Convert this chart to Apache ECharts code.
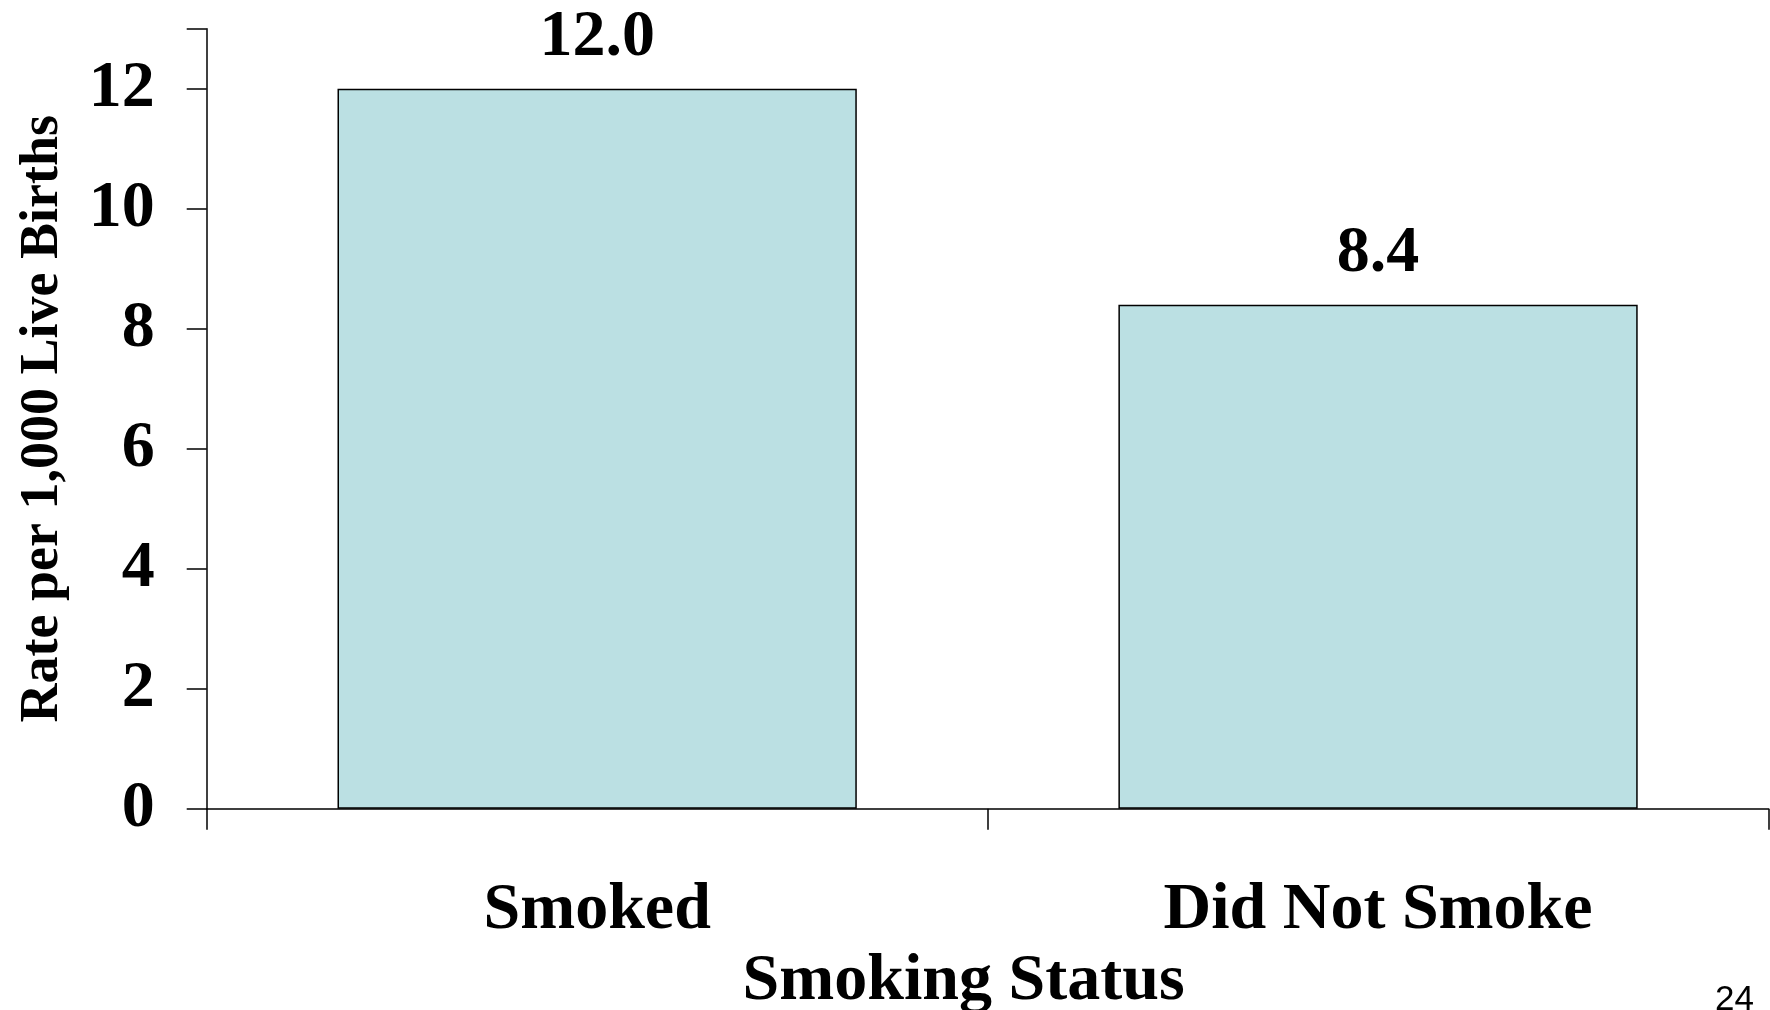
<!DOCTYPE html>
<html>
<head>
<meta charset="utf-8">
<script src="https://cdn.jsdelivr.net/npm/echarts@6/dist/echarts.min.js"></script>
<style>html,body{margin:0;padding:0;background:#fff}#chart{width:1770px;height:1010px}</style>
</head>
<body>
<div id="chart"></div>
<script>
const categories = ['Smoked', 'Did Not Smoke'];
const rates = [12.0, 8.4];
const yTicks = [0, 2, 4, 6, 8, 10, 12];
const yAxisTitle = 'Rate per 1,000 Live Births';
const xAxisTitle = 'Smoking Status';
const pageNumber = '24';

const serif = '"Liberation Serif", "Times New Roman", serif';
const chart = echarts.init(document.getElementById('chart'), null, {renderer: 'canvas'});
chart.setOption({
  animation: false,
  backgroundColor: '#ffffff',
  title: {
    text: pageNumber,
    left: 1710,
    top: 978,
    textStyle: {fontFamily: '"Liberation Sans", Arial, sans-serif', fontSize: 35, fontWeight: 'normal', color: '#000'}
  },
  grid: {left: 206.7, right: 1.5, top: 28.7, bottom: 201.3, containLabel: false, outerBoundsMode: 'none'},
  xAxis: {
    type: 'category',
    data: categories,
    name: xAxisTitle,
    nameLocation: 'middle',
    nameGap: 131,
    nameTextStyle: {fontFamily: serif, fontWeight: 'bold', fontSize: 66, color: '#000', padding: [0, 48, 0, 0]},
    axisLine: {show: true, lineStyle: {color: '#000', width: 1.5}},
    axisTick: {show: true, length: 21, inside: false, lineStyle: {color: '#000', width: 1.5}},
    axisLabel: {fontFamily: serif, fontWeight: 'bold', fontSize: 66, color: '#000', margin: 69},
    splitLine: {show: false}
  },
  yAxis: {
    type: 'value',
    min: 0,
    max: 13,
    interval: 2,
    name: yAxisTitle,
    nameLocation: 'middle',
    nameGap: 137,
    nameRotate: 90,
    nameTextStyle: {fontFamily: serif, fontWeight: 'bold', fontSize: 54, color: '#000'},
    axisLine: {show: true, lineStyle: {color: '#000', width: 1.5}},
    axisTick: {show: true, length: 20, lineStyle: {color: '#000', width: 1.5}},
    axisLabel: {
      fontFamily: serif, fontWeight: 'bold', fontSize: 66, color: '#000', margin: 52,
      formatter: function (v) { return yTicks.indexOf(v) >= 0 ? String(v) : ''; }
    },
    splitLine: {show: false}
  },
  series: [{
    type: 'bar',
    data: rates,
    barWidth: '66.5%',
    itemStyle: {color: '#bbe0e3', borderColor: '#000', borderWidth: 1.5},
    label: {
      show: true,
      position: 'top',
      distance: 18,
      fontFamily: serif, fontWeight: 'bold', fontSize: 66, color: '#000',
      formatter: function (p) { return p.value.toFixed(1); }
    }
  }]
});
</script>
</body>
</html>
